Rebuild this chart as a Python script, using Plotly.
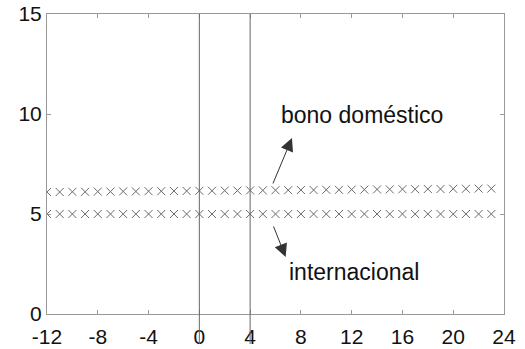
import plotly.graph_objects as go

periods = list(range(-12, 24))
bono_domestico = [6.10, 6.10, 6.11, 6.11, 6.12, 6.12, 6.13, 6.13, 6.14, 6.14, 6.15, 6.15,
                  6.16, 6.16, 6.17, 6.17, 6.18, 6.18, 6.19, 6.19, 6.20, 6.20, 6.21, 6.21,
                  6.22, 6.22, 6.23, 6.23, 6.24, 6.24, 6.25, 6.25, 6.26, 6.26, 6.27, 6.27]
internacional = [5.0] * 36
vlines = [0, 4]
x_ticks = [-12, -8, -4, 0, 4, 8, 12, 16, 20, 24]
x_ticktext = ["-12", "-8", "-4", "0", "4", "8", "12", "16", "20", "24"]
y_ticks = [0, 5, 10, 15]

font = "Liberation Sans, Arial, sans-serif"
fig = go.Figure()
for ys in (bono_domestico, internacional):
    fig.add_trace(go.Scatter(x=periods, y=ys, mode="markers",
                             marker=dict(symbol="x-thin", size=8,
                                         line=dict(width=1, color="#6a6a6a")),
                             showlegend=False))
for v in vlines:
    fig.add_shape(type="line", x0=v, x1=v, y0=-0.1, y1=1, xref="x", yref="paper",
                  line=dict(color="#666666", width=1))

fig.add_annotation(x=12.8, y=9.95, text="bono doméstico", showarrow=False,
                   font=dict(size=23, color="#111111", family=font))
fig.add_annotation(x=12.2, y=2.1, text="internacional", showarrow=False,
                   font=dict(size=23, color="#111111", family=font))
fig.add_annotation(x=7.3, y=8.8, ax=5.75, ay=6.45, axref="x", ayref="y", text="",
                   showarrow=True, arrowhead=2, arrowsize=2.6, arrowwidth=1,
                   arrowcolor="#333333")
fig.add_annotation(x=6.8, y=2.85, ax=5.8, ay=4.45, axref="x", ayref="y", text="",
                   showarrow=True, arrowhead=2, arrowsize=2.6, arrowwidth=1,
                   arrowcolor="#333333")

axis_common = dict(showgrid=False, zeroline=False, showline=True, mirror="ticks",
                   linecolor="#999999", linewidth=1, ticks="inside", ticklen=4,
                   tickcolor="#999999", automargin=False,
                   tickfont=dict(size=21, color="#111111", family=font))
fig.update_xaxes(range=[-12, 24], tickvals=x_ticks, ticktext=x_ticktext,
                 ticklabelstandoff=4, **axis_common)
fig.update_yaxes(range=[0, 15], tickvals=y_ticks, **axis_common)
fig.update_layout(width=525, height=349, plot_bgcolor="white", paper_bgcolor="white",
                  margin=dict(l=47, r=21, t=14, b=35), font=dict(family=font))
fig.write_html("out.html", config={"displayModeBar": False},
               post_script="document.body.style.margin='0';")
